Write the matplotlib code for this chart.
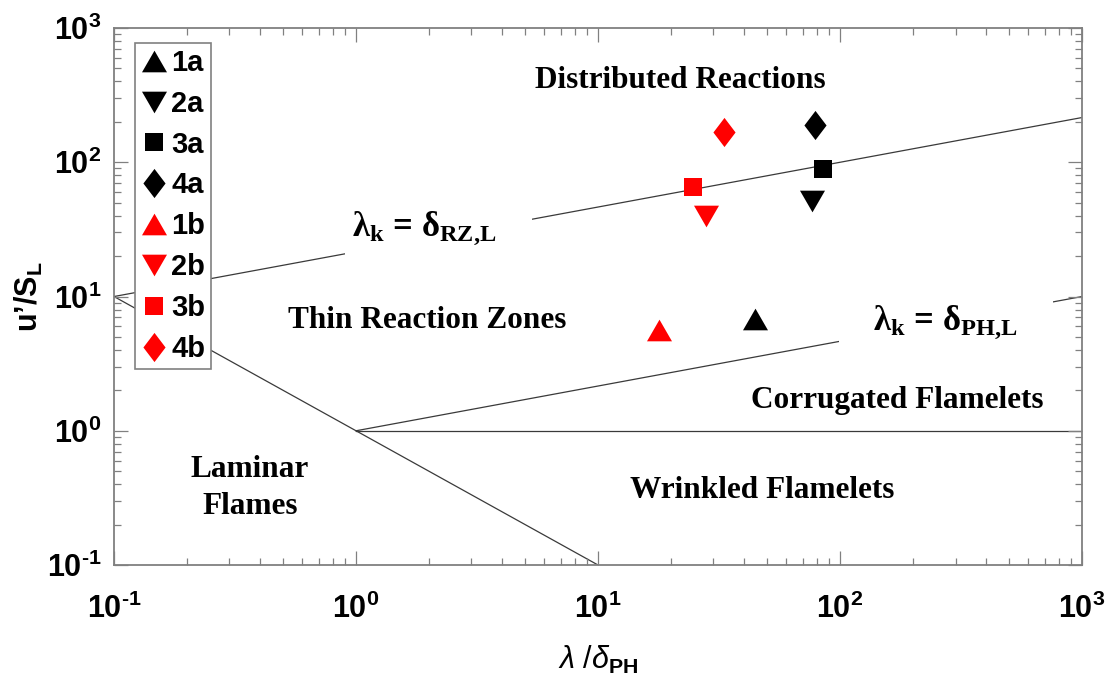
import numpy as np
import matplotlib
matplotlib.use("Agg")
import matplotlib.pyplot as plt
from matplotlib.ticker import FuncFormatter

# ---------------- data ----------------
case_labels = ["1a", "2a", "3a", "4a", "1b", "2b", "3b", "4b"]
x_values = [44.6, 76.4, 84.9, 78.9, 17.9, 27.9, 24.6, 33.0]      # lambda / delta_PH
y_values = [6.85, 51.4, 88.7, 189.0, 5.68, 40.0, 65.9, 167.0]    # u'/S_L
case_colors = ["black", "black", "black", "black", "red", "red", "red", "red"]
case_shapes = ["up", "down", "square", "diamond", "up", "down", "square", "diamond"]

region_labels = ["Distributed Reactions", "Thin Reaction Zones", "Corrugated Flamelets",
                 "Wrinkled Flamelets", "Laminar", "Flames"]

plt.rcParams['mathtext.fontset'] = 'custom'
plt.rcParams['mathtext.it'] = 'Liberation Sans:italic'
plt.rcParams['mathtext.rm'] = 'Liberation Sans'
plt.rcParams['mathtext.bf'] = 'Liberation Sans:bold'
plt.rcParams['axes.unicode_minus'] = False

fig = plt.figure(figsize=(11.09, 6.77), dpi=100)
ax = fig.add_axes([0.1028, 0.1654, 0.8729, 0.7932])
ax.set_xscale('log')
ax.set_yscale('log')
ax.set_xlim(0.1, 1000)
ax.set_ylim(0.1, 1000)

line_kw = dict(color='#3a3a3a', lw=0.9, zorder=1)
xs = np.logspace(-1, 3, 50)
ax.plot(xs, 10 * (xs / 0.1) ** (1 / 3), **line_kw)            # lambda_k = delta_RZ,L
xs2 = np.logspace(0, 3, 50)
ax.plot(xs2, (xs2 / 1.0) ** (1 / 3), **line_kw)               # lambda_k = delta_PH,L
ax.plot(xs2, np.ones_like(xs2), **line_kw)                     # u'/S_L = 1
xs3 = np.logspace(-1, 1, 50)
ax.plot(xs3, 1.0 / xs3, **line_kw)                             # laminar boundary

tri_up = [(-1, -0.866), (1, -0.866), (0, 0.866)]
tri_dn = [(-1, 0.866), (1, 0.866), (0, -0.866)]
diam = [(0, 1), (0.76, 0), (0, -1), (-0.76, 0)]
shape_map = {"up": (tri_up, 18), "down": (tri_dn, 18), "square": ("s", 12.5), "diamond": (diam, 21)}

for lab, xv, yv, c, s in zip(case_labels, x_values, y_values, case_colors, case_shapes):
    m, ms = shape_map[s]
    ax.plot([xv], [yv], linestyle='none', marker=m, markersize=ms, color=c,
            markeredgewidth=0, label=lab, zorder=4)

serif = dict(family='Liberation Serif', weight='bold', fontsize=22.5, color='black')
ax.text(0.585, 0.888, region_labels[0], transform=ax.transAxes, ha='center', va='baseline', **serif)
ax.text(0.324, 0.441, region_labels[1], transform=ax.transAxes, ha='center', va='baseline', **serif)
ax.text(0.809, 0.292, region_labels[2], transform=ax.transAxes, ha='center', va='baseline', **serif)
ax.text(0.670, 0.125, region_labels[3], transform=ax.transAxes, ha='center', va='baseline', **serif)
ax.text(0.140, 0.164, region_labels[4], transform=ax.transAxes, ha='center', va='baseline', **serif)
ax.text(0.1405, 0.095, region_labels[5], transform=ax.transAxes, ha='center', va='baseline', **serif)

lam_kw = dict(family='Liberation Serif', weight='bold', fontsize=25, color='black', zorder=2,
              bbox=dict(boxstyle='square,pad=0.22', fc='white', ec='none'))
ax.text(0.246, 0.613, r"λ$_\mathregular{k}$ = δ$_\mathregular{RZ{,}L}$    ", transform=ax.transAxes,
        ha='left', va='baseline', **lam_kw)
ax.text(0.7570, 0.438, r"   λ$_\mathregular{k}$ = δ$_\mathregular{PH{,}L}$    ", transform=ax.transAxes,
        ha='left', va='baseline', **lam_kw)


def pow10(v, pos):
    e = int(round(np.log10(v)))
    es = str(e).replace('-', '\u2010')
    return r"$\mathdefault{10^{%s}}$" % es


# axes styling
spine_c = '#808080'
for sp in ax.spines.values():
    sp.set_color(spine_c)
    sp.set_linewidth(1.3)
ax.xaxis.set_major_formatter(FuncFormatter(pow10))
ax.yaxis.set_major_formatter(FuncFormatter(pow10))
ax.tick_params(which='both', direction='in', top=True, right=True, colors=spine_c,
               labelcolor='black')
ax.tick_params(which='major', length=10, width=0.9)
ax.tick_params(which='minor', length=5, width=0.9)
ax.tick_params(axis='x', which='major', pad=21, labelsize=22)
ax.tick_params(axis='y', which='major', pad=9, labelsize=22)
for lbl in ax.get_xticklabels() + ax.get_yticklabels():
    lbl.set_fontfamily('Liberation Sans')
    lbl.set_fontweight('bold')

ax.set_xlabel(r"$\lambda\ /\delta_{\mathbf{PH}}$", fontsize=22, family='Liberation Sans', labelpad=13)
ax.set_ylabel(r"u’/S$_\mathregular{L}$", fontsize=22, family='Liberation Sans', weight='bold',
              labelpad=1)

leg = ax.legend(loc='upper left', bbox_to_anchor=(0.0217, 0.972), borderaxespad=0,
                fancybox=False, edgecolor='#808080', framealpha=1,
                prop=dict(family='Liberation Sans', weight='bold', size=21),
                handlelength=0.9, handletextpad=0.15, labelspacing=0.44, borderpad=0.2,
                markerscale=1.0)
leg.get_frame().set_linewidth(1.2)
leg.set_zorder(5)

fig.savefig("out.png", dpi=100)
